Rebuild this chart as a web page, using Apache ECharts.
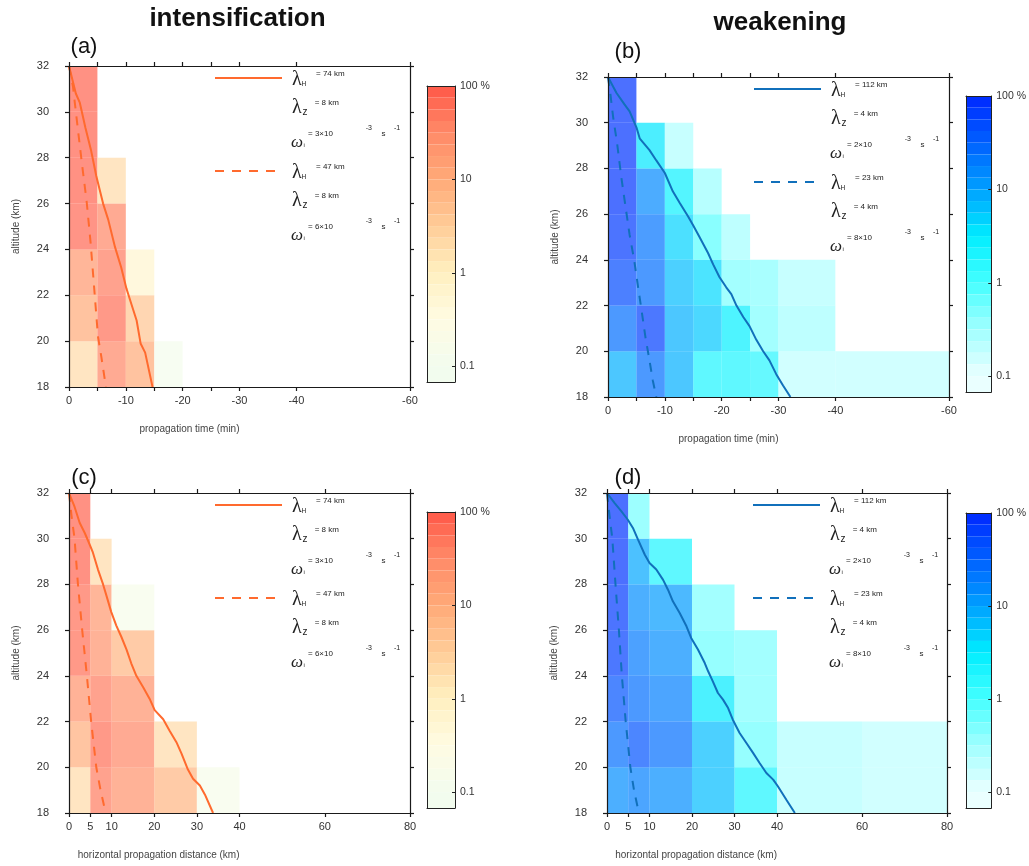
<!DOCTYPE html>
<html><head><meta charset="utf-8">
<script src="https://cdn.jsdelivr.net/npm/echarts@6.0.0/dist/echarts.min.js"></script>
<style>html,body{margin:0;padding:0;background:#fff}#chart{width:1029px;height:866px}</style>
</head><body><div id="chart"></div>
<script>
// ---------- data ----------
const altitudeEdges = [18, 20, 22, 24, 26, 28, 30, 32];
const timeEdges = [0, -5, -10, -15, -20, -25, -30, -40, -60];
const distanceEdges = [0, 5, 10, 20, 30, 40, 60, 80];
const timeTicks = [0, -5, -10, -15, -20, -25, -30, -40, -60];
const timeLabels = [0, -10, -20, -30, -40, -60];
const distanceTicks = [0, 5, 10, 20, 30, 40, 60, 80];
const distanceLabels = [0, 5, 10, 20, 30, 40, 60, 80];
const colorbarTickLabels = ['0.1', '1', '10', '100 %'];

// cell percentages, rows from 18-20 km (bottom) to 30-32 km (top)
const intensTimeCells = [
  [2, 35, 10, 0.12],
  [10, 60, 4],
  [20, 45, 0.6],
  [70, 35],
  [80, 2],
  [80],
  [80]
];
const weakTimeCells = [
  [8, 25, 8, 2, 2, 1.7, 0.2, 0.2],
  [25, 63, 8, 5.6, 3, 0.5, 0.3],
  [50, 25, 6.6, 4.3, 0.5, 0.45, 0.25],
  [70, 22, 4.7, 0.8, 0.3],
  [80, 15, 2.6, 0.35],
  [80, 3.5, 0.25],
  [80]
];
const intensDistCells = [
  [2, 45, 25, 7, 0.15],
  [9, 60, 35, 2],
  [25, 45, 25],
  [60, 25, 7],
  [60, 20, 0.15],
  [80, 2],
  [80]
];
const weakDistCells = [
  [14, 18, 14, 6.6, 2, 0.25, 0.2],
  [25, 42, 25, 6.6, 0.63, 0.25, 0.2],
  [42, 25, 18, 3.3, 0.5],
  [63, 20, 14, 0.63, 0.5],
  [70, 14, 11, 0.5],
  [80, 9, 2],
  [80, 0.55]
];

// ray paths [x, altitude]
const intensTimeSolid = [[0,32],[-1.2,30.8],[-1.9,30.4],[-2.9,29.3],[-3.9,28.3],[-4.8,27.2],[-6.0,26.0],[-6.9,25.3],[-8.1,24.1],[-9.2,23.2],[-10.1,22.3],[-11.0,21.6],[-11.9,20.9],[-12.6,19.9],[-13.4,19.5],[-14.7,18.0]];
const intensTimeDashed = [[0,32],[-0.7,31.1],[-1.3,29.8],[-2.2,27.9],[-3.1,26.1],[-3.8,24.3],[-4.5,22.1],[-5.1,20.2],[-5.7,19.3],[-6.5,18.0]];
const weakTimeSolid = [[0,32],[-1.5,31.3],[-2.9,30.8],[-3.8,30.5],[-5.0,29.8],[-5.6,29.3],[-7.3,28.8],[-8.5,28.35],[-10.0,27.8],[-11.4,27.0],[-12.6,26.5],[-14.1,25.9],[-15.0,25.5],[-16.1,25.0],[-17.6,24.3],[-18.5,23.8],[-19.6,23.25],[-20.8,22.8],[-21.7,22.5],[-22.6,22.0],[-23.8,21.5],[-24.9,21.1],[-26.1,20.5],[-27.3,20.0],[-28.4,19.6],[-29.6,19.0],[-30.8,18.5],[-32.1,18.0]];
const weakTimeDashed = [[0,32],[-0.4,31.3],[-0.9,30.25],[-1.6,29.1],[-2.35,27.6],[-3.1,26.3],[-3.8,25.1],[-4.6,24.0],[-5.3,22.8],[-5.9,21.8],[-6.6,20.6],[-7.3,19.6],[-7.9,18.7],[-8.5,18.0]];
const intensDistSolid = [[0,32],[1.3,31.4],[2.5,30.7],[3.7,30.25],[4.5,29.9],[5.6,29.4],[6.8,28.65],[8.0,28.0],[8.8,27.5],[9.9,26.8],[11.1,26.2],[12.3,25.7],[13.5,25.15],[14.6,24.55],[15.8,24.0],[17.4,23.5],[18.9,23.0],[20.1,22.5],[22.1,22.1],[23.6,21.6],[25.2,21.1],[26.4,20.6],[27.9,19.9],[29.1,19.5],[30.7,19.2],[31.9,18.8],[33.8,18.0]];
const intensDistDashed = [[0,32],[0.6,31],[1.3,30],[2.1,28],[3.1,26],[4.2,24],[5.2,22],[6.4,20],[7.4,19],[8.6,18]];
const weakDistSolid = [[0,32],[1.8,31.56],[3.4,31.2],[4.9,30.83],[6.1,30.47],[7.3,29.96],[8.9,29.3],[10.0,28.94],[11.6,28.65],[13.2,28.2],[14.35,27.77],[15.5,27.26],[17.1,26.75],[18.7,26.17],[19.8,25.66],[21.4,25.15],[23.0,24.56],[23.8,24.2],[24.9,23.76],[26.1,23.25],[27.3,22.96],[28.5,22.59],[29.6,22.08],[31.2,21.5],[32.8,21.06],[34.4,20.62],[35.9,20.19],[37.5,19.75],[39.1,19.46],[40.2,19.17],[42.2,18.58],[44.2,18.0]];
const weakDistDashed = [[0,32],[0.6,31],[1.25,30],[2.0,28],[2.8,26],[3.5,24],[4.4,22],[5.5,20],[6.35,19],[7.5,18]];

// legend texts
const intensLegend = [['= 74 km', '= 8 km', '= 3×10'], ['= 47 km', '= 8 km', '= 6×10']];
const weakLegend = [['= 112 km', '= 4 km', '= 2×10'], ['= 23 km', '= 4 km', '= 8×10']];

const redColors = ['#f2fcee', '#fffbe2', '#fff0c0', '#ffcc98', '#ffaa78', '#ff8a68', '#ff5848'];
const blueColors = ['#eaffff', '#a0ffff', '#45ffff', '#00eeff', '#00a0ff', '#0060ff', '#0028ff'];
const redLine = '#ff6a2e';
const blueLine = '#1170bb';

// ---------- layout ----------
const FONT = '"Liberation Sans", Arial, Helvetica, sans-serif';
const SERIF = '"Liberation Serif", "Times New Roman", serif';
const CB_MIN = -1.17, CB_MAX = 2;
const panelGrids = [
  {left: 69, top: 66, width: 341, height: 321},
  {left: 608, top: 77, width: 341, height: 320},
  {left: 69, top: 493, width: 341, height: 320},
  {left: 607, top: 493, width: 340, height: 320}
];
const cbGrids = [
  {left: 427, top: 86, width: 28, height: 296},
  {left: 966, top: 96, width: 27, height: 296},
  {left: 427, top: 512, width: 28, height: 296},
  {left: 966, top: 513, width: 27, height: 295}
];

function cellData(matrix, xEdges) {
  const out = [];
  matrix.forEach((row, r) => row.forEach((v, c) => {
    if (v != null) out.push([xEdges[c], xEdges[c + 1], altitudeEdges[r], altitudeEdges[r + 1], Math.log10(v)]);
  }));
  return out;
}
function colorbarData() {
  const out = [];
  for (let k = 0; k < 24; k++) {
    const hi = 2 - k * 0.125, lo = hi - 0.125;
    out.push([0, 1, lo, hi, (lo + hi) / 2]);
  }
  out.push([0, 1, CB_MIN, -1, -1.1]);
  return out;
}
function rectRender(opacity) {
  return function (params, api) {
    const a = api.coord([api.value(0), api.value(3)]);
    const b = api.coord([api.value(1), api.value(2)]);
    return {
      type: 'rect',
      shape: {x: Math.min(a[0], b[0]), y: Math.min(a[1], b[1]), width: Math.abs(b[0] - a[0]), height: Math.abs(b[1] - a[1])},
      style: {fill: api.visual('color'), opacity: opacity}
    };
  };
}

const lineStyleAx = {color: '#1a1a1a', width: 1.2};
const xAxes = [], yAxes = [], series = [], grids = [];
const panels = [
  {cells: intensTimeCells, edges: timeEdges, ticks: timeTicks, labels: timeLabels, inverse: true, min: -60, max: 0, name: 'propagation time (min)', solid: intensTimeSolid, dashed: intensTimeDashed, color: redLine},
  {cells: weakTimeCells, edges: timeEdges, ticks: timeTicks, labels: timeLabels, inverse: true, min: -60, max: 0, name: 'propagation time (min)', solid: weakTimeSolid, dashed: weakTimeDashed, color: blueLine},
  {cells: intensDistCells, edges: distanceEdges, ticks: distanceTicks, labels: distanceLabels, inverse: false, min: 0, max: 80, name: 'horizontal propagation distance (km)', solid: intensDistSolid, dashed: intensDistDashed, color: redLine},
  {cells: weakDistCells, edges: distanceEdges, ticks: distanceTicks, labels: distanceLabels, inverse: false, min: 0, max: 80, name: 'horizontal propagation distance (km)', solid: weakDistSolid, dashed: weakDistDashed, color: blueLine}
];

panels.forEach((p, i) => {
  grids.push(Object.assign({containLabel: false}, panelGrids[i]));
  const baseX = {gridIndex: i, type: 'value', min: p.min, max: p.max, inverse: p.inverse, z: 5,
    splitLine: {show: false}, axisLine: {show: true, onZero: false, lineStyle: lineStyleAx}};
  xAxes.push(Object.assign({}, baseX, {position: 'bottom',
    axisTick: {show: true, inside: false, length: 4, customValues: p.ticks, lineStyle: lineStyleAx},
    axisLabel: {show: true, customValues: p.labels, margin: 8, fontSize: 11, color: '#333', fontFamily: FONT},
    name: p.name, nameLocation: 'middle', nameGap: 37,
    nameTextStyle: {fontSize: 10, color: '#444', fontFamily: FONT, align: 'right'}}));
  xAxes.push(Object.assign({}, baseX, {position: 'top',
    axisTick: {show: true, inside: false, length: 4, customValues: p.ticks, lineStyle: lineStyleAx},
    axisLabel: {show: false}}));
  const baseY = {gridIndex: i, type: 'value', min: 18, max: 32, interval: 2, z: 5,
    splitLine: {show: false}, axisLine: {show: true, onZero: false, lineStyle: lineStyleAx},
    axisTick: {show: true, inside: false, length: 4, lineStyle: lineStyleAx}};
  yAxes.push(Object.assign({}, baseY, {position: 'left',
    axisLabel: {show: true, margin: 20, fontSize: 11, color: '#333', fontFamily: FONT},
    name: 'altitude (km)', nameLocation: 'middle', nameGap: 48,
    nameTextStyle: {fontSize: 10, color: '#444', fontFamily: FONT}}));
  yAxes.push(Object.assign({}, baseY, {position: 'right', axisLabel: {show: false}}));

  series.push({type: 'custom', xAxisIndex: 2 * i, yAxisIndex: 2 * i, z: 1,
    renderItem: rectRender(0.7), encode: {x: [0, 1], y: [2, 3]}, data: cellData(p.cells, p.edges), animation: false});
  series.push({type: 'line', xAxisIndex: 2 * i, yAxisIndex: 2 * i, z: 3, data: p.solid, symbol: 'none',
    lineStyle: {color: p.color, width: 2}, animation: false});
  series.push({type: 'line', xAxisIndex: 2 * i, yAxisIndex: 2 * i, z: 3, data: p.dashed, symbol: 'none',
    lineStyle: {color: p.color, width: 2, type: [9, 8]}, animation: false});
});

cbGrids.forEach((g, c) => {
  const gi = 4 + c;
  grids.push(Object.assign({containLabel: false}, g));
  const bx = {gridIndex: gi, type: 'value', min: 0, max: 1, z: 5, splitLine: {show: false},
    axisLine: {show: true, onZero: false, lineStyle: {color: '#222', width: 1}}, axisTick: {show: false}, axisLabel: {show: false}};
  xAxes.push(Object.assign({}, bx, {position: 'bottom'}));
  xAxes.push(Object.assign({}, bx, {position: 'top'}));
  yAxes.push({gridIndex: gi, type: 'value', min: CB_MIN, max: CB_MAX, position: 'right', z: 5,
    splitLine: {show: false}, axisLine: {show: true, onZero: false, lineStyle: {color: '#222', width: 1}},
    axisTick: {show: true, inside: true, length: 3, customValues: [-1, 0, 1], lineStyle: {color: '#222'}},
    axisLabel: {show: true, customValues: [-1, 0, 1, 2], margin: 5, fontSize: 10.5, color: '#333', fontFamily: FONT,
      formatter: v => colorbarTickLabels[Math.round(v) + 1]}});
  yAxes.push({gridIndex: gi, type: 'value', min: CB_MIN, max: CB_MAX, position: 'left', z: 5,
    splitLine: {show: false}, axisLine: {show: true, onZero: false, lineStyle: {color: '#222', width: 1}},
    axisTick: {show: false}, axisLabel: {show: false}});
  series.push({type: 'custom', xAxisIndex: 8 + 2 * c, yAxisIndex: 8 + 2 * c, z: 1,
    renderItem: rectRender(1), encode: {x: [0, 1], y: [2, 3]}, data: colorbarData(), animation: false});
});

// ---------- legend / labels as graphics ----------
function legendEls(g, color, texts) {
  const gx = g.left, gy = g.top, els = [];
  const T = (x, y, text, size, family, style) => ({type: 'text', x: gx + x, y: gy + y, z: 100,
    style: {text: text, fontSize: size, fontFamily: family, fontStyle: style || 'normal', fill: '#222', align: 'left', verticalAlign: 'middle'}});
  for (let k = 0; k < 2; k++) {
    const dy = k * 93;
    els.push({type: 'line', z: 100, shape: {x1: gx + 146, y1: gy + 12 + dy, x2: gx + (k ? 207 : 213), y2: gy + 12 + dy},
      style: {stroke: color, lineWidth: 2, lineDash: k ? [9, 8] : null}});
    els.push(T(223, 14 + dy, 'λ', 20, SERIF));
    els.push(T(232.5, 18.5 + dy, 'H', 6.5, FONT));
    els.push(T(247, 7.6 + dy, texts[k][0], 8, FONT));
    els.push(T(223, 41.8 + dy, 'λ', 20, SERIF));
    els.push(T(233.5, 46 + dy, 'z', 10, FONT));
    els.push(T(245.7, 36.5 + dy, texts[k][1], 8, FONT));
    els.push(T(222, 77 + dy, 'ω', 17, SERIF, 'italic'));
    els.push(T(234.5, 79.5 + dy, 'i', 6, FONT));
    els.push(T(239, 68 + dy, texts[k][2], 8, FONT));
    els.push(T(296.7, 62.3 + dy, '-3', 7, FONT));
    els.push(T(312.4, 68 + dy, 's', 8, FONT));
    els.push(T(325, 62 + dy, '-1', 7, FONT));
  }
  return els;
}
function label(x, y, text, size, weight) {
  return {type: 'text', x: x, y: y, z: 100, style: {text: text, fontSize: size, fontWeight: weight || 'normal',
    fontFamily: FONT, fill: '#111', align: 'center', verticalAlign: 'middle'}};
}
const graphics = [].concat(
  legendEls(panelGrids[0], redLine, intensLegend),
  legendEls(panelGrids[1], blueLine, weakLegend),
  legendEls(panelGrids[2], redLine, intensLegend),
  legendEls(panelGrids[3], blueLine, weakLegend),
  [label(237.5, 19, 'intensification', 26, 'bold'), label(780, 23, 'weakening', 26, 'bold'),
   label(84, 47, '(a)', 22), label(628, 52, '(b)', 22), label(84, 478, '(c)', 22), label(628, 478, '(d)', 22)]
);

const option = {
  backgroundColor: '#ffffff',
  animation: false,
  grid: grids,
  xAxis: xAxes,
  yAxis: yAxes,
  visualMap: [
    {type: 'continuous', show: false, min: -1, max: 2, dimension: 4, seriesIndex: [0, 6, 12, 14],
      inRange: {color: redColors}, outOfRange: {color: '#ffffff'}},
    {type: 'continuous', show: false, min: -1, max: 2, dimension: 4, seriesIndex: [3, 9, 13, 15],
      inRange: {color: blueColors}, outOfRange: {color: '#ffffff'}}
  ],
  series: series,
  graphic: graphics
};
const chart = echarts.init(document.getElementById('chart'), null, {renderer: 'canvas'});
chart.setOption(option);
</script>
</body></html>
